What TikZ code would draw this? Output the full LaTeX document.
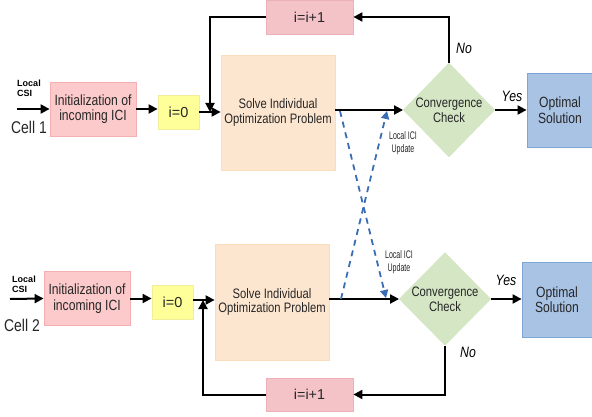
\documentclass[tikz,border=0pt]{standalone}
\usepackage{fontspec}
\setmainfont{Liberation Sans}
\newfontfamily\condf[FakeStretch=0.82]{Liberation Sans}
\newfontfamily\narrowf[FakeStretch=0.64]{Liberation Sans}
\usetikzlibrary{arrows.meta,shapes.geometric}
\definecolor{initfill}{HTML}{FCCACB}
\definecolor{initdraw}{HTML}{F4AFB2}
\definecolor{zerofill}{HTML}{FFFF99}
\definecolor{zerodraw}{HTML}{F3EC9A}
\definecolor{solvefill}{HTML}{FDE6CF}
\definecolor{solvedraw}{HTML}{FBDCBC}
\definecolor{convfill}{HTML}{D4E6C4}
\definecolor{optfill}{HTML}{A9C3E5}
\definecolor{optdraw}{HTML}{7FA4D6}
\definecolor{incfill}{HTML}{F4C3C8}
\definecolor{incdraw}{HTML}{EDB0B6}
\definecolor{dashblue}{HTML}{3A6DB3}
\definecolor{txt}{HTML}{262626}
\begin{document}
\begin{tikzpicture}[x=1pt,y=-1pt,
  every node/.style={text=txt},
  boxbase/.style={rectangle,inner sep=0pt,align=center,line width=0.8pt},
  initbox/.style={boxbase,fill=initfill,draw=initdraw,minimum width=86pt,minimum height=54pt,font=\condf\fontsize{14.8}{15.5}\selectfont},
  zerobox/.style={boxbase,fill=zerofill,draw=zerodraw,minimum width=41pt,minimum height=34pt,font=\fontsize{14.5}{16}\selectfont},
  solvebox/.style={boxbase,fill=solvefill,draw=solvedraw,minimum width=114pt,minimum height=115pt,font=\condf\fontsize{13.7}{14.5}\selectfont},
  convbox/.style={diamond,inner sep=0pt,fill=convfill,draw=convfill,minimum width=90pt,minimum height=94pt,align=center,font=\condf\fontsize{13.7}{15}\selectfont},
  optbox/.style={boxbase,fill=optfill,draw=optdraw,minimum width=66pt,minimum height=74pt,font=\condf\fontsize{14.8}{15.5}\selectfont},
  incbox/.style={boxbase,fill=incfill,draw=incdraw,minimum width=87pt,minimum height=34pt,font=\fontsize{14.3}{16}\selectfont},
  arr/.style={line width=2pt,-{Triangle[length=9pt,width=9pt]}},
  darr/.style={line width=1.8pt,dashblue,dash pattern=on 6pt off 5pt,-{Triangle[length=8pt,width=8pt]}},
  csi/.style={font=\fontsize{9}{10}\selectfont\bfseries,align=left,text=black},
  cell/.style={font=\condf\fontsize{17}{18}\selectfont},
  yn/.style={font=\condf\fontsize{15}{16}\selectfont\itshape,text=black},
  upd/.style={font=\narrowf\fontsize{11}{13}\selectfont,align=center}
]
\useasboundingbox (0,0) rectangle (592,417);
% ---------- Cell 1 ----------
\node[initbox] (init1) at (93,109) {Initialization of\\incoming ICI};
\node[zerobox] (zero1) at (178.5,112) {i=0};
\node[solvebox] (solve1) at (278,112.5) {Solve Individual\\Optimization Problem};
\node[convbox] (conv1) at (449,110) {Convergence\\Check};
\node[optbox] (opt1) at (560,110) {Optimal\\Solution};
\node[incbox] (inc1) at (309.5,17) {i=i+1};
\node[csi] (csi1) at (29,88) {Local\\CSI};
\node[cell] (cell1) at (29,127) {Cell 1};
\node[yn] (yes1) at (512,96) {Yes};
\node[yn] (no1) at (464,48) {No};
\coordinate (in1) at (17,109);
\coordinate (j1) at (210,112);
\draw[arr] (in1) -- (init1.west);
\draw[arr] (init1.east) -- (init1.east -| zero1.west);
\draw[arr] (zero1.east) -- (zero1.east -| solve1.west);
\draw[arr] (solve1.east |- conv1.west) -- (conv1.west);
\draw[arr] (conv1.east) -- (conv1.east -| opt1.west);
\draw[arr] (conv1.north) |- (inc1.east);
\draw[arr] (inc1.west) -| (j1);
% ---------- Cell 2 ----------
\node[initbox] (init2) at (87,298.5) {Initialization of\\incoming ICI};
\node[zerobox] (zero2) at (172.5,302) {i=0};
\node[solvebox,minimum height=116pt] (solve2) at (272,302) {Solve Individual\\Optimization Problem};
\node[convbox,minimum height=93pt] (conv2) at (445,299) {Convergence\\Check};
\node[optbox,minimum width=70pt,minimum height=75pt] (opt2) at (557,299.5) {Optimal\\Solution};
\node[incbox,minimum height=33pt] (inc2) at (309.5,394.5) {i=i+1};
\node[csi] (csi2) at (24,284) {Local\\CSI};
\node[cell] (cell2) at (22,325) {Cell 2};
\node[yn] (yes2) at (506,280) {Yes};
\node[yn] (no2) at (468,352) {No};
\coordinate (in2) at (10,299);
\coordinate (j2) at (203,300);
\draw[arr] (in2) -- (init2.west);
\draw[arr] (init2.east) -- (init2.east -| zero2.west);
\draw[arr] (zero2.east |- 0,300) -- (solve2.west |- 0,300);
\draw[arr] (solve2.east |- conv2.west) -- (conv2.west);
\draw[arr] (conv2.east) -- (conv2.east -| opt2.west);
\draw[arr] (conv2.south) |- (inc2.east);
\draw[arr] (inc2.west) -| (j2);
% ---------- ICI exchange ----------
\coordinate (d1s) at (340,111);
\coordinate (d1e) at (386,298);
\coordinate (d2s) at (341,299);
\coordinate (d2e) at (387,111);
\draw[darr] (d1s) -- (d1e);
\draw[darr] (d2s) -- (d2e);
\node[upd] (upd1) at (403,143) {Local ICI\\Update};
\node[upd] (upd2) at (399,262) {Local ICI\\Update};
\end{tikzpicture}
\end{document}
